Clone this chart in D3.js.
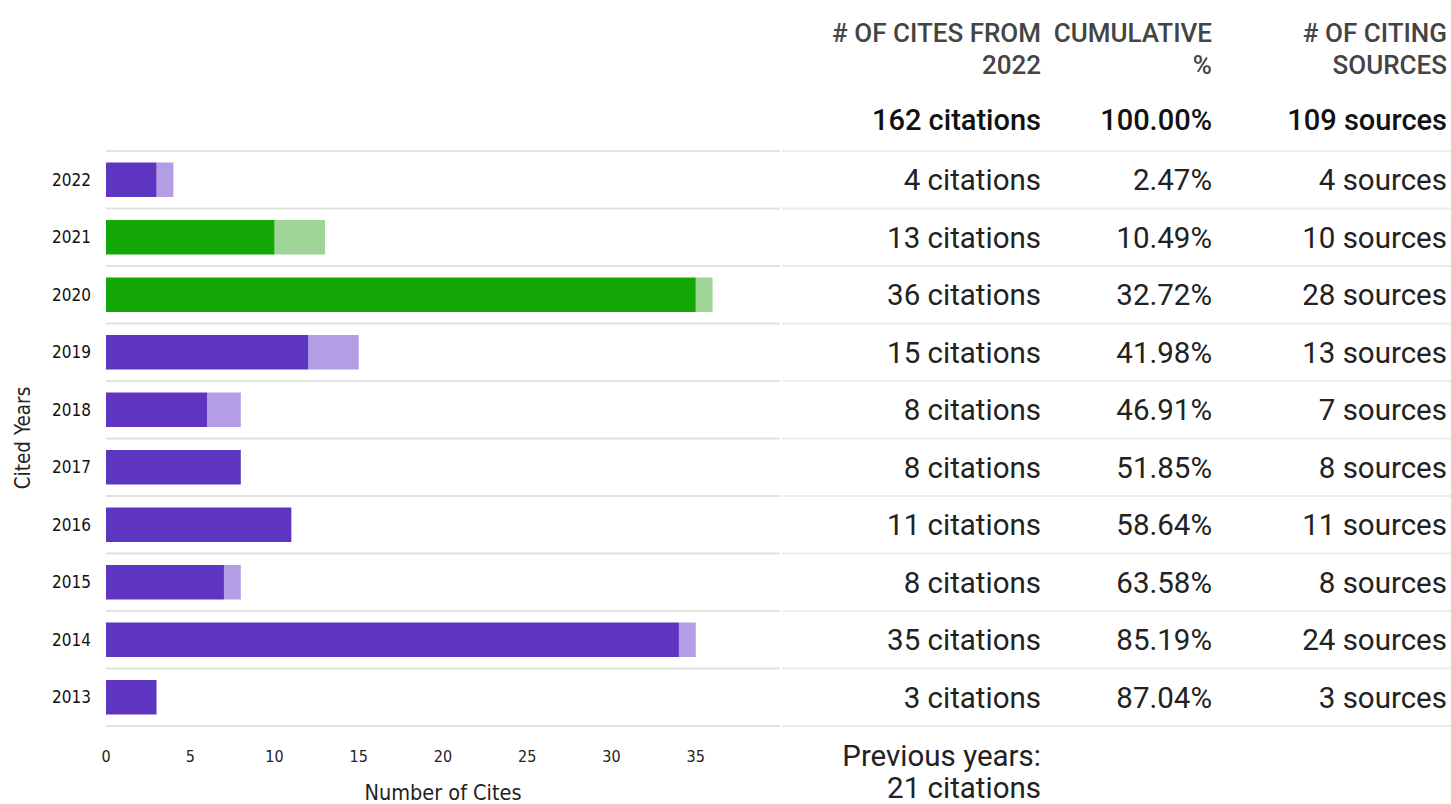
<!DOCTYPE html>
<html><head><meta charset="utf-8">
<script src="https://cdn.jsdelivr.net/npm/d3@7"></script>
<style>
body{margin:0;background:#fff;}
svg{display:block;}
</style></head>
<body>
<svg id="c" width="1451" height="804"></svg>
<script>
const years = ["2022","2021","2020","2019","2018","2017","2016","2015","2014","2013"];
const darkVals = [3,10,35,12,6,8,11,7,34,3];
const totalVals = [4,13,36,15,8,8,11,8,35,3];
const highlight = [false,true,true,false,false,false,false,false,false,false];
const citesText = ["4 citations","13 citations","36 citations","15 citations","8 citations","8 citations","11 citations","8 citations","35 citations","3 citations"];
const cumText = ["2.47%","10.49%","32.72%","41.98%","46.91%","51.85%","58.64%","63.58%","85.19%","87.04%"];
const srcText = ["4 sources","10 sources","28 sources","13 sources","7 sources","8 sources","11 sources","8 sources","24 sources","3 sources"];
const xTicks = [0,5,10,15,20,25,30,35];
const headers = [["# OF CITES FROM","2022"],["CUMULATIVE","%"],["# OF CITING","SOURCES"]];
const totals = ["162 citations","100.00%","109 sources"];
const previous = ["Previous years:","21 citations"];

const svg = d3.select("#c");
const x = d3.scaleLinear().domain([0,40]).range([106,780]);
const y = d3.scaleBand().domain(years).range([151,726]).paddingInner(0.4).paddingOuter(0.2);
const step = y.step();

const colDark = {p:"#5e35c1", g:"#14a806"};
const colLight = {p:"#b39ee6", g:"#9fd497"};

const gl = d3.range(years.length+1).map(i => 151 + i*step);
svg.append("g").selectAll("line").data(gl).join("line")
  .attr("x1",106).attr("x2",780).attr("y1",d=>d).attr("y2",d=>d)
  .attr("stroke","#e2e2e2").attr("stroke-width",2);
svg.append("g").selectAll("line").data(gl).join("line")
  .attr("x1",782).attr("x2",1451).attr("y1",d=>d).attr("y2",d=>d)
  .attr("stroke","#ececec").attr("stroke-width",2);

const bars = svg.append("g");
years.forEach((yr,i)=>{
  const k = highlight[i] ? "g" : "p";
  if (totalVals[i] > darkVals[i]) {
    bars.append("rect").attr("x",x(darkVals[i])).attr("y",y(yr))
      .attr("width",x(totalVals[i])-x(darkVals[i])).attr("height",y.bandwidth())
      .attr("fill",colLight[k]);
  }
  bars.append("rect").attr("x",x(0)).attr("y",y(yr))
    .attr("width",x(darkVals[i])-x(0)).attr("height",y.bandwidth())
    .attr("fill",colDark[k]);
});

const axFont = "'Liberation Sans Narrow','DejaVu Sans Condensed',sans-serif";
svg.append("g").selectAll("text").data(years).join("text")
  .attr("x",91).attr("y",d=>y(d)+y.bandwidth()/2).attr("dy","0.36em")
  .attr("text-anchor","end").attr("font-family","'DejaVu Sans Condensed',sans-serif")
  .attr("font-size",17).attr("fill","#111").text(d=>d);

svg.append("g").selectAll("text").data(xTicks).join("text")
  .attr("x",d=>x(d)).attr("y",762).attr("text-anchor","middle")
  .attr("font-family",axFont).attr("font-size",16).attr("fill","#222").text(d=>d);

svg.append("text").attr("x",443).attr("y",800).attr("text-anchor","middle")
  .attr("font-family",axFont).attr("font-size",21.5).attr("fill","#222").text("Number of Cites");
svg.append("text").attr("transform","translate(30,438) rotate(-90)").attr("text-anchor","middle")
  .attr("font-family",axFont).attr("font-size",20.5).attr("fill","#222").text("Cited Years");

const colX = [1041,1212,1447];
const tf = "Roboto, sans-serif";
headers.forEach((h,j)=>{
  h.forEach((line,l)=>{
    svg.append("text").attr("x",colX[j]).attr("y",42+l*32).attr("text-anchor","end")
      .attr("font-family",tf).attr("font-size",26).attr("font-weight",500).attr("fill","#444").text(line);
  });
});
totals.forEach((t,j)=>{
  svg.append("text").attr("x",colX[j]).attr("y",130).attr("text-anchor","end")
    .attr("font-family",tf).attr("font-size",29).attr("font-weight",500).attr("fill","#111").text(t);
});
[citesText,cumText,srcText].forEach((arr,j)=>{
  svg.append("g").selectAll("text").data(years).join("text")
    .attr("x",colX[j]).attr("y",d=>y(d)+y.bandwidth()/2).attr("dy","0.36em")
    .attr("text-anchor","end").attr("font-family",tf).attr("font-size",29.5).attr("fill","#222")
    .text((d,i)=>arr[i]);
});
previous.forEach((t,l)=>{
  svg.append("text").attr("x",colX[0]).attr("y",766+l*32).attr("text-anchor","end")
    .attr("font-family",tf).attr("font-size",29.5).attr("fill","#222").text(t);
});
</script>
</body></html>
